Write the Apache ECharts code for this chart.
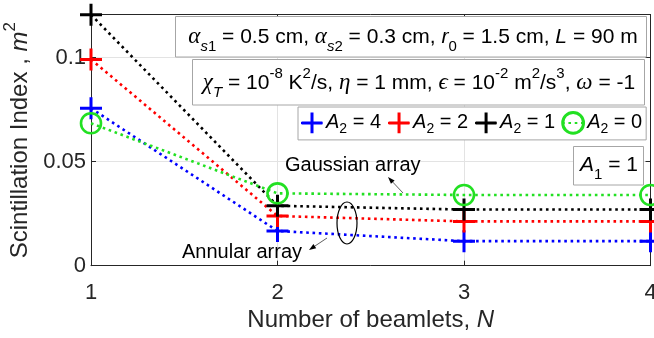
<!DOCTYPE html>
<html>
<head>
<meta charset="utf-8">
<script src="https://cdn.jsdelivr.net/npm/echarts@6/dist/echarts.min.js"></script>
<style>html,body{margin:0;padding:0;background:#fff}#c{width:654px;height:338px}</style>
</head>
<body>
<div id="c"></div>
<script>
// ---- data ----
const beamlets = [1, 2, 3, 4];
const seriesNames = ['A2 = 4', 'A2 = 2', 'A2 = 1', 'A2 = 0'];
const legendLabels = ['4', '2', '1', '0'];
const valsA4 = [0.0757, 0.0167, 0.0118, 0.0118];
const valsA2 = [0.0992, 0.0239, 0.0213, 0.0213];
const valsA1 = [0.1207, 0.0288, 0.0270, 0.0270];
const valsA0 = [0.0685, 0.0348, 0.0340, 0.0340];
const yTicks = [0, 0.05, 0.1];
const xTicks = [1, 2, 3, 4];

const FONT = 'Liberation Sans, Arial, Helvetica, sans-serif';
const SERIF = 'Liberation Serif, DejaVu Serif, serif';
const AX = '#262626';
const PLUS = 'path://M10,0 L10,20 M0,10 L20,10';

function pairs(vals) { return beamlets.map((n, i) => [n, vals[i]]); }

function mk(name, vals, color, isCircle) {
  return {
    name: name, type: 'line', data: pairs(vals),
    symbol: isCircle ? 'circle' : PLUS,
    symbolSize: isCircle ? 20 : 22,
    showSymbol: true,
    lineStyle: { color: color, width: 2.6, type: [2.6, 3.7], cap: 'butt' },
    itemStyle: { color: 'transparent', borderColor: color, borderWidth: isCircle ? 2.6 : 3 },
    emphasis: { disabled: true },
    animation: false,
    z: 3
  };
}

const chart = echarts.init(document.getElementById('c'), null, { renderer: 'canvas' });

const gridL = 91, gridT = 14.7, gridW = 559.5, gridH = 251;

const option = {
  backgroundColor: '#fff',
  animation: false,
  grid: { left: gridL, top: gridT, width: gridW, height: gridH, show: false, containLabel: false, outerBoundsMode: 'none' },
  xAxis: [{
    type: 'value', min: 1, max: 4, interval: 1,
    name: '{t|Number of beamlets, }{i|N}',
    nameLocation: 'middle', nameGap: 37,
    nameTextStyle: { rich: {
      t: { fontFamily: FONT, fontSize: 24, color: AX },
      i: { fontFamily: FONT, fontSize: 24, color: AX, fontStyle: 'italic' } } },
    axisLine: { show: true, lineStyle: { color: AX, width: 1 } },
    axisTick: { show: true, inside: true, length: 5, lineStyle: { color: AX } },
    axisLabel: { fontFamily: FONT, fontSize: 22, color: AX, margin: 16,
      formatter: v => xTicks.indexOf(v) >= 0 ? String(v) : '' },
    splitLine: { show: true, lineStyle: { color: '#e3e3e3', width: 1 } }
  }, {
    type: 'value', min: 1, max: 4, interval: 1, position: 'top',
    axisLine: { show: true, onZero: false, lineStyle: { color: AX, width: 1 } },
    axisTick: { show: true, inside: true, length: 5, lineStyle: { color: AX } },
    axisLabel: { show: false }, splitLine: { show: false }
  }],
  yAxis: [{
    type: 'value', min: 0, max: 0.1207, interval: 0.05,
    name: '{t|Scintillation Index , }{i|m}{s|2}',
    nameLocation: 'middle', nameGap: 57, nameRotate: 90,
    nameTextStyle: { rich: {
      t: { fontFamily: FONT, fontSize: 24, color: AX, verticalAlign: 'bottom', lineHeight: 30 },
      i: { fontFamily: FONT, fontSize: 24, color: AX, fontStyle: 'italic', verticalAlign: 'bottom', lineHeight: 30 },
      s: { fontFamily: FONT, fontSize: 17, color: AX, verticalAlign: 'top', lineHeight: 30 } } },
    axisLine: { show: true, onZero: false, lineStyle: { color: AX, width: 1 } },
    axisTick: { show: true, inside: true, length: 5, lineStyle: { color: AX } },
    axisLabel: { fontFamily: FONT, fontSize: 22, color: AX, margin: 5, showMaxLabel: false,
      formatter: v => { const k = yTicks.findIndex(t => Math.abs(t - v) < 1e-9); return k >= 0 ? String(yTicks[k]) : ''; } },
    splitLine: { show: true, lineStyle: { color: '#e3e3e3', width: 1 } }
  }, {
    type: 'value', min: 0, max: 0.1207, interval: 0.05, position: 'right',
    axisLine: { show: true, onZero: false, lineStyle: { color: AX, width: 1 } },
    axisTick: { show: true, inside: true, length: 5, lineStyle: { color: AX } },
    axisLabel: { show: false }, splitLine: { show: false }
  }],
  legend: {
    left: 298, top: 107, orient: 'horizontal',
    padding: [4, 4, 4, 2], itemGap: 6,
    itemWidth: 22, itemHeight: 26,
    borderColor: '#a6a6a6', borderWidth: 1, backgroundColor: '#fff',
    data: seriesNames,
    itemStyle: { borderWidth: 3 },
    formatter: name => '{i|A}{s|2}{t| = ' + legendLabels[seriesNames.indexOf(name)] + '}',
    textStyle: { padding: [0, 0, 0, -2], rich: {
      i: { fontFamily: FONT, fontSize: 20, color: '#000', fontStyle: 'italic', verticalAlign: 'middle', lineHeight: 26 },
      s: { fontFamily: FONT, fontSize: 14, color: '#000', verticalAlign: 'bottom', lineHeight: 26 },
      t: { fontFamily: FONT, fontSize: 20, color: '#000', verticalAlign: 'middle', lineHeight: 26 } } },
    selectedMode: false
  },
  series: [
    mk(seriesNames[0], valsA4, '#0000ff', false),
    mk(seriesNames[1], valsA2, '#ff0000', false),
    mk(seriesNames[2], valsA1, '#000000', false),
    mk(seriesNames[3], valsA0, '#22e022', true)
  ]
};
chart.setOption(option);

// ---- annotation boxes and arrows ----
const RT = {
  t: { fontFamily: FONT, fontSize: 21, fill: '#000', verticalAlign: 'middle', lineHeight: 34 },
  i: { fontFamily: FONT, fontSize: 21, fill: '#000', fontStyle: 'italic', verticalAlign: 'middle', lineHeight: 34 },
  g: { fontFamily: SERIF, fontSize: 23, fill: '#000', fontStyle: 'italic', verticalAlign: 'middle', lineHeight: 34 },
  sb: { fontFamily: FONT, fontSize: 15, fill: '#000', verticalAlign: 'bottom', lineHeight: 34 },
  sbi: { fontFamily: FONT, fontSize: 15, fill: '#000', fontStyle: 'italic', verticalAlign: 'bottom', lineHeight: 34 },
  sp: { fontFamily: FONT, fontSize: 15, fill: '#000', verticalAlign: 'top', lineHeight: 34 }
};
function box(x, y, w, h) {
  return { type: 'rect', shape: { x: x, y: y, width: w, height: h }, style: { fill: '#fff', stroke: '#a6a6a6', lineWidth: 1 }, z: 10 };
}
function txt(x, y, s, align) {
  return { type: 'text', x: x, y: y, z: 11, style: { text: s, align: align || 'center', verticalAlign: 'middle', rich: RT, fill: '#000', font: '21px ' + FONT } };
}
function arrow(x1, y1, x2, y2) {
  const a = Math.atan2(y2 - y1, x2 - x1), L = 7, W = 2.5;
  const bx = x2 - L * Math.cos(a), by = y2 - L * Math.sin(a);
  const nx = -Math.sin(a), ny = Math.cos(a);
  return [
    { type: 'line', shape: { x1: x1, y1: y1, x2: bx, y2: by }, style: { stroke: '#606060', lineWidth: 1 }, z: 12 },
    { type: 'polygon', shape: { points: [[x2, y2], [bx + nx * W, by + ny * W], [bx - nx * W, by - ny * W]] }, style: { fill: '#000' }, z: 12 }
  ];
}

chart.setOption({
  graphic: [
    box(175.5, 16.5, 471, 40.5),
    txt(413, 37, '{g|α}{sbi|s}{sb|1}{t| = 0.5 cm, }{g|α}{sbi|s}{sb|2}{t| = 0.3 cm, }{i|r}{sb|0}{t| = 1.5 cm, }{i|L}{t| = 90 m}'),
    box(192.5, 59.5, 452, 45.5),
    txt(419, 83, '{g|χ}{sbi|T}{t| = 10}{sp|-8}{t| K}{sp|2}{t|/s, }{g|η}{t| = 1 mm, }{g|ϵ}{t| = 10}{sp|-2}{t| m}{sp|2}{t|/s}{sp|3}{t|, }{g|ω}{t| = -1}'),
    box(573.5, 146.5, 70, 38.5),
    txt(609, 165, '{i|A}{sb|1}{t| = 1}'),
    { type: 'text', x: 285, y: 165, z: 11, style: { text: 'Gaussian array', font: '20px ' + FONT, fill: '#000', verticalAlign: 'middle' } },
    { type: 'text', x: 182, y: 252, z: 11, style: { text: 'Annular array', font: '20px ' + FONT, fill: '#000', verticalAlign: 'middle' } },
    { type: 'ellipse', shape: { cx: 347, cy: 223, rx: 10, ry: 21 }, style: { fill: 'none', stroke: '#000', lineWidth: 1.2 }, z: 12 },
    ...arrow(403, 193, 388, 177),
    ...arrow(327, 238, 309, 250)
  ]
});
</script>
</body>
</html>
